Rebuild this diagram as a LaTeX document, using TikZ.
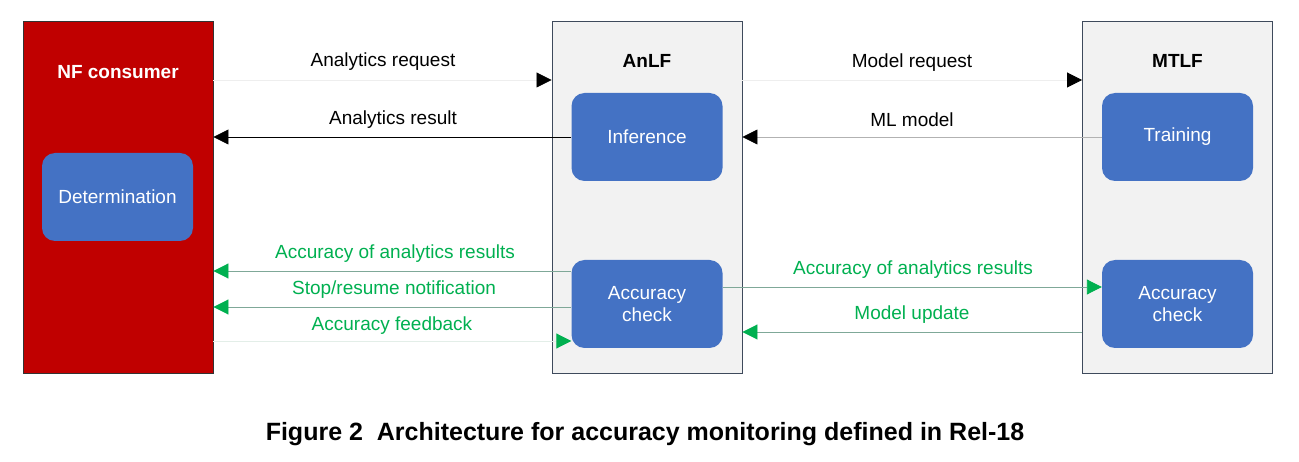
\documentclass[tikz,border=0pt]{standalone}
\usepackage{fontspec}
\setmainfont{Liberation Sans}
\usetikzlibrary{arrows.meta}
\definecolor{nfred}{HTML}{C00000}
\definecolor{boxblue}{HTML}{4472C4}
\definecolor{panelgray}{HTML}{F2F2F2}
\definecolor{panelborder}{HTML}{3E4A5C}
\definecolor{agreen}{HTML}{00B050}
\definecolor{glin}{HTML}{7FA898}
\definecolor{faint}{HTML}{EEEEEE}
\definecolor{faintg}{HTML}{E3EEE8}
\tikzset{
  panel/.style={draw=panelborder, line width=0.9pt, fill=panelgray, minimum width=190pt, minimum height=352pt, inner sep=0pt},
  func/.style={fill=boxblue, rounded corners=13pt, minimum width=151pt, minimum height=88pt, inner sep=0pt, text=white, font=\fontsize{19}{22.5}\selectfont},
  lbl/.style={font=\fontsize{19}{22}\selectfont},
  glbl/.style={lbl, text=agreen},
  blk/.style={line width=0.8pt, -{Triangle[length=15pt,width=15pt,color=black,fill=black]}},
  grn/.style={draw=glin, line width=0.9pt, -{Triangle[length=15pt,width=15pt,color=agreen,fill=agreen]}},
}
\begin{document}
\begin{tikzpicture}[x=1pt,y=-1pt]
\useasboundingbox (0,0) rectangle (1299,462);
\node[panel, fill=nfred, draw=black!80] (nf) at (118,197) {};
\node[panel] (anlf) at (647,197) {};
\node[panel] (mtlf) at (1177.5,197) {};
\node[font=\bfseries\fontsize{19}{22}\selectfont, text=white] (nft) at (118,72) {NF consumer};
\node[font=\bfseries\fontsize{19}{22}\selectfont] (anlft) at (647,61) {AnLF};
\node[font=\bfseries\fontsize{19}{22}\selectfont] (mtlft) at (1177.5,61) {MTLF};
\node[func] (det) at (117.5,197) {Determination};
\node[func] (inf) at (647,137) {Inference};
\node[func, align=center] (acc1) at (647,304) {Accuracy\\check};
\node[func] (trn) at (1177.5,137) {Training};
\node[func, align=center] (acc2) at (1177.5,304) {Accuracy\\check};
% coordinates on edges
\coordinate (nfA) at (nf.east |- 0,80);
\coordinate (anA) at (anlf.west |- 0,80);
\coordinate (anB) at (anlf.east |- 0,80);
\coordinate (mtB) at (mtlf.west |- 0,80);
\coordinate (nfR) at (nf.east |- inf.west);
\coordinate (anM) at (anlf.east |- trn.west);
\coordinate (nfG1) at (nf.east |- 0,271);
\coordinate (acG1) at (acc1.west |- 0,271);
\coordinate (nfG2) at (nf.east |- 0,307);
\coordinate (acG2) at (acc1.west |- 0,307);
\coordinate (nfG3) at (nf.east |- 0,341);
\coordinate (acG3) at (acc1.west |- 0,341);
\coordinate (acR) at (acc1.east |- 0,287);
\coordinate (a2R) at (acc2.west |- 0,287);
\coordinate (mtU) at (mtlf.west |- 0,332);
\coordinate (anU) at (anlf.east |- 0,332);
% black arrows
\draw[blk, draw=faint] (nfA) -- (anA);
\draw[blk] (inf.west) -- (nfR);
\draw[blk, draw=faint] (anB) -- (mtB);
\draw[blk, draw=black!30] (trn.west) -- (anM);
% green arrows
\draw[grn] (acG1) -- (nfG1);
\draw[grn] (acG2) -- (nfG2);
\draw[grn, draw=faintg] (nfG3) -- (acG3);
\draw[grn] (acR) -- (a2R);
\draw[grn] (mtU) -- (anU);
% labels
\node[lbl] (l1) at (383,62) {Analytics request};
\node[lbl] (l2) at (393,120) {Analytics result};
\node[lbl] (l3) at (912,63) {Model request};
\node[lbl] (l4) at (912,120) {ML model};
\node[glbl] (l5) at (395,254) {Accuracy of analytics results};
\node[glbl] (l6) at (394,290) {Stop/resume notification};
\node[glbl] (l7) at (392,326) {Accuracy feedback};
\node[glbl] (l8) at (913,270) {Accuracy of analytics results};
\node[glbl] (l9) at (912,315) {Model update};
\node[font=\bfseries\fontsize{25}{29}\selectfont] (cap) at (645,434) {Figure 2\ \ Architecture for accuracy monitoring defined in Rel-18};
\end{tikzpicture}
\end{document}
